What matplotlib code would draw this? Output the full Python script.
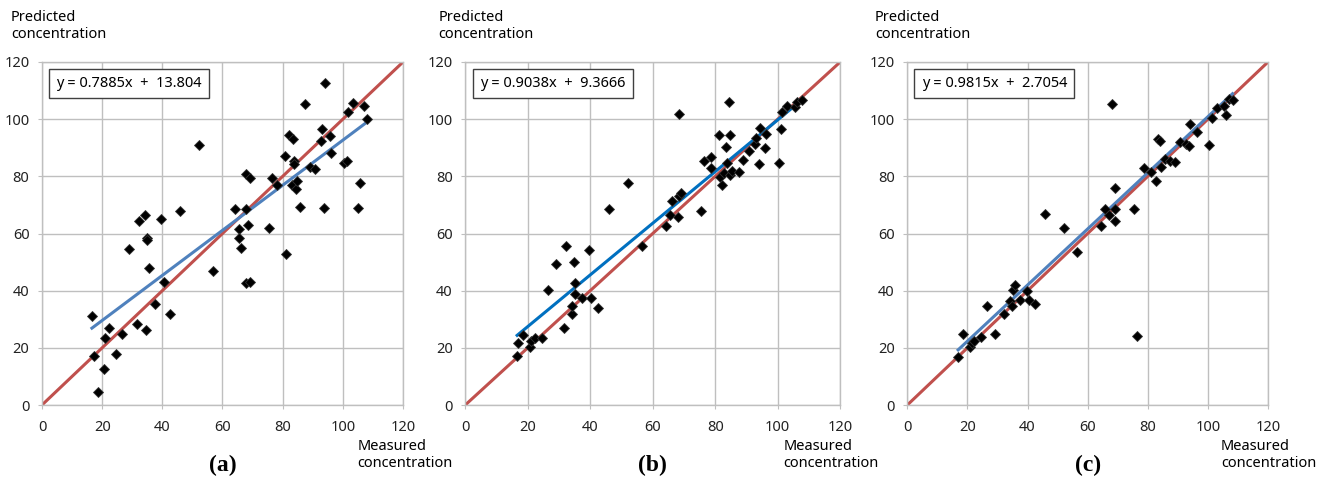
import numpy as np
import matplotlib
matplotlib.use("Agg")
import matplotlib.pyplot as plt

# measured vs predicted concentration
meas_a = [16.6, 17.2, 18.5, 20.6, 20.8, 22.3, 24.6, 26.5, 29.0, 31.7, 32.2, 34.3, 34.5, 34.8,
          35.0, 35.6, 37.5, 39.6, 40.4, 42.5, 45.9, 52.1, 56.7, 64.2, 65.5, 65.5, 66.3, 67.8,
          67.9, 67.9, 69.0, 68.6, 69.0, 75.5, 76.6, 78.1, 80.8, 81.1, 82.0, 83.2, 83.4, 83.7,
          83.9, 84.4, 84.9, 85.7, 87.4, 89.2, 90.7, 92.7, 93.2, 93.7, 94.1, 95.8, 96.2, 100.4,
          101.4, 101.7, 103.5, 104.9, 105.8, 107.0, 107.9]
pred_a = [31.1, 17.2, 4.4, 12.5, 23.3, 27.0, 17.8, 24.7, 54.6, 28.4, 64.2, 66.6, 26.2, 58.5,
          57.6, 47.8, 35.5, 65.2, 43.1, 31.8, 67.7, 91.0, 47.0, 68.6, 61.5, 58.6, 55.1, 68.4,
          80.9, 42.8, 43.2, 62.9, 79.5, 62.1, 79.5, 77.1, 87.1, 52.8, 94.6, 76.9, 93.1, 85.2,
          84.3, 75.6, 78.4, 69.2, 105.3, 83.1, 82.6, 92.5, 96.5, 69.0, 112.5, 94.0, 88.3, 84.8,
          85.2, 102.4, 105.7, 69.0, 77.6, 104.7, 100.0]

meas_b = [16.6, 16.9, 18.6, 20.6, 21.2, 22.3, 24.6, 26.5, 29.1, 31.7, 32.3, 34.2, 34.3, 34.9,
          35.2, 35.2, 37.5, 39.6, 40.4, 42.6, 45.9, 52.2, 56.5, 64.3, 65.4, 66.1, 68.1, 68.3,
          68.5, 69.1, 75.5, 76.4, 78.5, 78.5, 81.1, 81.5, 82.3, 82.9, 83.5, 83.7, 84.3, 84.7,
          84.7, 85.5, 87.5, 89.0, 90.9, 92.7, 93.2, 93.9, 94.2, 95.8, 96.2, 100.3, 101.2, 101.5,
          103.1, 105.6, 106.3, 107.9]
pred_b = [17.0, 21.6, 24.5, 20.2, 22.5, 23.5, 23.5, 40.3, 49.2, 26.8, 55.8, 32.0, 34.8, 50.0,
          42.6, 39.0, 37.4, 54.2, 37.5, 34.1, 68.5, 77.5, 55.7, 62.7, 66.4, 71.3, 65.7, 101.8,
          73.1, 74.2, 68.0, 85.5, 86.7, 83.0, 94.4, 79.8, 76.9, 81.0, 90.4, 84.5, 105.9, 94.3,
          80.5, 81.8, 81.4, 85.6, 88.7, 91.2, 93.3, 84.4, 96.9, 89.9, 94.7, 84.8, 96.4, 102.6,
          104.5, 104.3, 106.0, 106.8]

meas_c = [16.9, 18.5, 20.7, 21.5, 22.3, 24.5, 26.5, 29.1, 32.1, 34.3, 34.8, 35.0, 35.7, 37.5,
          39.7, 40.4, 42.6, 45.9, 52.2, 56.6, 64.4, 65.9, 67.1, 68.2, 69.0, 69.0, 69.1, 75.5,
          76.5, 78.6, 81.2, 82.6, 83.4, 84.1, 84.5, 85.7, 87.5, 89.2, 90.8, 92.7, 93.8, 94.2,
          96.4, 100.3, 101.5, 103.0, 105.2, 106.1, 106.9, 108.2]
pred_c = [16.9, 24.7, 20.4, 21.6, 22.5, 23.8, 34.6, 24.7, 32.0, 36.5, 34.6, 40.3, 41.9, 36.9,
          40.0, 36.9, 35.2, 66.9, 61.9, 53.6, 62.6, 68.5, 66.3, 105.3, 76.0, 68.5, 64.4, 68.5,
          24.1, 83.0, 81.4, 78.5, 92.9, 92.2, 83.3, 86.2, 85.4, 84.9, 91.9, 91.2, 90.5, 98.4,
          95.4, 91.1, 100.5, 103.8, 104.7, 101.6, 107.1, 106.8]

slopes = [0.7885, 0.9038, 0.9815]
intercepts = [13.804, 9.3666, 2.7054]
fit_colors = ["#4F81BD", "#0070C0", "#4F81BD"]
panel_labels = ["(a)", "(b)", "(c)"]
ticks = [0, 20, 40, 60, 80, 100, 120]

plt.rcParams["font.family"] = ["Noto Sans", "DejaVu Sans"]

fig = plt.figure(figsize=(13.24, 4.78), dpi=100)
positions = [
    [0.0317, 0.1527, 0.2727, 0.7176],
    [0.3514, 0.1527, 0.2832, 0.7176],
    [0.6853, 0.1527, 0.2724, 0.7176],
]
ylabel_x = [-0.086, -0.072, -0.09]
xlabel_x = [0.873, 0.848, 0.87]
datasets = [(meas_a, pred_a), (meas_b, pred_b), (meas_c, pred_c)]

for i, (pos, (mx, py)) in enumerate(zip(positions, datasets)):
    ax = fig.add_axes(pos)
    ax.set_xlim(0, 120)
    ax.set_ylim(0, 120)
    ax.set_xticks(ticks)
    ax.set_yticks(ticks)
    ax.grid(True, color="#BFBFBF", lw=1)
    ax.set_axisbelow(True)
    for sp in ax.spines.values():
        sp.set_color("#BFBFBF")
        sp.set_linewidth(1)
    ax.tick_params(length=3, color="#BFBFBF", labelsize=10.5, labelcolor="#222222")
    ax.tick_params(axis="x", pad=8)
    ax.tick_params(axis="y", pad=6)

    # 1:1 line
    ax.plot([0, 120], [0, 120], color="#C0504D", lw=2.2, zorder=2)
    # linear fit
    xs = np.array([min(mx), max(mx)])
    ax.plot(xs, slopes[i] * xs + intercepts[i], color=fit_colors[i], lw=2.2, zorder=2)
    ax.plot(mx, py, "D", color="black", ms=5.5, mec="#333333", mew=0.6, zorder=3,
            clip_on=False)

    ax.text(0.04, 0.937, f"y = {slopes[i]}x  +  {intercepts[i]}", transform=ax.transAxes,
            fontsize=10.5, va="center", ha="left",
            bbox=dict(boxstyle="square,pad=0.5", fc="white", ec="#404040", lw=1))

    ax.text(ylabel_x[i], 1.105, "Predicted\nconcentration", transform=ax.transAxes,
            fontsize=10.5, va="center", ha="left", linespacing=1.25)
    ax.text(xlabel_x[i], -0.146, "Measured\nconcentration", transform=ax.transAxes,
            fontsize=10.5, va="center", ha="left", linespacing=1.25)
    ax.text(0.5, -0.175, panel_labels[i], transform=ax.transAxes, fontsize=17,
            fontweight="bold", family="Liberation Serif", va="center", ha="center")

fig.savefig("out.png", dpi=100)
